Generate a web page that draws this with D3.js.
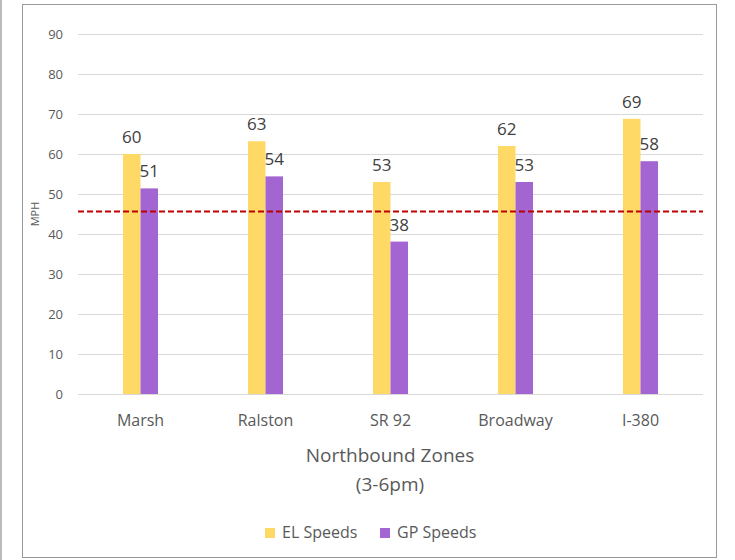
<!DOCTYPE html>
<html>
<head>
<meta charset="utf-8">
<script src="https://cdn.jsdelivr.net/npm/d3@7"></script>
<style>
  body { margin: 0; background: #fff; }
  svg { display: block; font-family: "Open Sans", Lato, sans-serif; }
</style>
</head>
<body>
<div id="chart"></div>
<script>
var zones = ["Marsh", "Ralston", "SR 92", "Broadway", "I-380"];
var series = ["EL Speeds", "GP Speeds"];
var elSpeeds = [60, 63.2, 53, 62, 68.8];
var gpSpeeds = [51.4, 54.4, 38.1, 53, 58.2];
var yTicks = [0, 10, 20, 30, 40, 50, 60, 70, 80, 90];
var thresholdMph = 45.6;

var colors = { "EL Speeds": "#ffd966", "GP Speeds": "#a365d1" };
var font = "'Open Sans', Lato, sans-serif";

var w = 735, h = 560;
var plotLeft = 78, plotRight = 703, plotTop = 34, plotBottom = 394;

var svg = d3.select("#chart").append("svg")
  .attr("width", w)
  .attr("height", h);

// page edge line + chart frame
svg.append("line")
  .attr("x1", 1).attr("x2", 1).attr("y1", 0).attr("y2", h)
  .attr("stroke", "#bbb").attr("stroke-width", 2);

svg.append("rect")
  .attr("x", 22.5).attr("y", 4.5)
  .attr("width", 694).attr("height", 553)
  .attr("fill", "none")
  .attr("stroke", "#999");

var yScale = d3.scaleLinear()
  .domain([0, 90])
  .range([plotBottom, plotTop]);

var x0 = d3.scaleBand()
  .domain(zones)
  .range([plotLeft, plotRight]);

var x1 = d3.scaleBand()
  .domain(series)
  .range([0, x0.bandwidth()])
  .paddingOuter(2.57);

// gridlines
var yAxis = d3.axisLeft(yScale)
  .tickValues(yTicks)
  .tickSize(-(plotRight - plotLeft))
  .tickPadding(15);

var gy = svg.append("g")
  .attr("transform", "translate(" + plotLeft + ",0)")
  .call(yAxis);
gy.select(".domain").remove();
gy.selectAll(".tick line").attr("stroke", "#d9d9d9");
gy.selectAll(".tick text")
  .attr("fill", "#595959")
  .attr("font-size", "13px")
  .attr("font-family", font);

var rows = zones.map(function(z, i) {
  return { zone: z, values: [
    { key: "EL Speeds", value: elSpeeds[i] },
    { key: "GP Speeds", value: gpSpeeds[i] }
  ] };
});

var groups = svg.selectAll("g.zone")
  .data(rows)
  .enter()
  .append("g")
  .attr("class", "zone")
  .attr("transform", function(d) { return "translate(" + x0(d.zone) + ",0)"; });

groups.selectAll("rect")
  .data(function(d) { return d.values; })
  .enter()
  .append("rect")
  .attr("x", function(d) { return x1(d.key); })
  .attr("y", function(d) { return yScale(d.value); })
  .attr("width", x1.bandwidth())
  .attr("height", function(d) { return plotBottom - yScale(d.value); })
  .attr("fill", function(d) { return colors[d.key]; });

groups.selectAll("text.val")
  .data(function(d) { return d.values; })
  .enter()
  .append("text")
  .attr("class", "val")
  .attr("x", function(d) { return x1(d.key) + x1.bandwidth() / 2; })
  .attr("y", function(d) { return yScale(d.value) - 11; })
  .attr("text-anchor", "middle")
  .attr("font-size", "17px")
  .attr("fill", "#404040")
  .text(function(d) { return d3.format(".0f")(d.value); });

// threshold line
svg.append("line")
  .attr("x1", plotLeft).attr("x2", plotRight)
  .attr("y1", yScale(thresholdMph)).attr("y2", yScale(thresholdMph))
  .attr("stroke", "#c00000")
  .attr("stroke-width", 2)
  .attr("stroke-dasharray", "6,3");

// x labels
var xAxis = d3.axisBottom(x0).tickSize(0).tickPadding(21);
var gx = svg.append("g")
  .attr("transform", "translate(0," + plotBottom + ")")
  .call(xAxis);
gx.select(".domain").remove();
gx.selectAll(".tick text")
  .attr("fill", "#595959")
  .attr("font-size", "16px")
  .attr("font-family", font);

// axis titles
svg.append("text")
  .attr("x", 390).attr("y", 462)
  .attr("text-anchor", "middle")
  .attr("font-size", "19px")
  .attr("fill", "#595959")
  .text("Northbound Zones");
svg.append("text")
  .attr("x", 390).attr("y", 491)
  .attr("text-anchor", "middle")
  .attr("font-size", "19px")
  .attr("fill", "#595959")
  .text("(3-6pm)");

svg.append("text")
  .attr("transform", "translate(39,214) rotate(-90)")
  .attr("text-anchor", "middle")
  .attr("font-size", "11px")
  .attr("fill", "#595959")
  .text("MPH");

// legend
var legendX = [265, 380];
var legend = svg.selectAll("g.legend")
  .data(series)
  .enter()
  .append("g")
  .attr("class", "legend")
  .attr("transform", function(d, i) { return "translate(" + legendX[i] + ",528)"; });

legend.append("rect")
  .attr("width", 10).attr("height", 10)
  .attr("fill", function(d) { return colors[d]; });

legend.append("text")
  .attr("x", 17).attr("y", 10)
  .attr("font-size", "16px")
  .attr("fill", "#595959")
  .text(function(d) { return d; });
</script>
</body>
</html>
